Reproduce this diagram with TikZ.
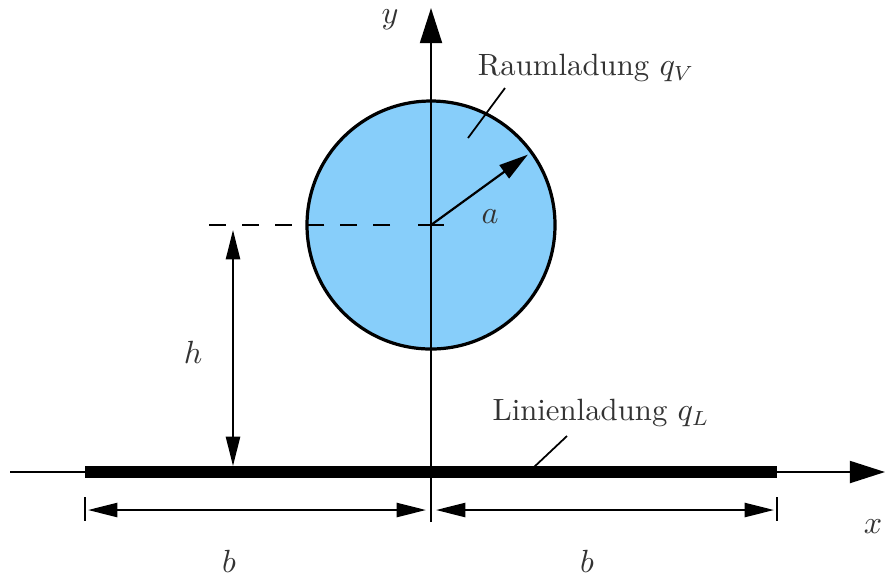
\documentclass[tikz,border=0pt]{standalone}
\usepackage{amsmath}
\usepackage{xcolor}
\usepackage{tikz}
\usetikzlibrary{arrows.meta}
\definecolor{chargefill}{RGB}{135, 206, 250}
\definecolor{labelgray}{gray}{0.2}

\begin{document}
\begin{tikzpicture}[x=0.012cm, y=-0.012cm,
	axis/.style={line width=0.75pt, -{Triangle[length=12pt, width=7.5pt]}},
	dim/.style={line width=0.75pt, {Triangle[length=10pt, width=4.8pt]}-{Triangle[length=10pt, width=4.8pt]}},
	lbl/.style={text=labelgray, font=\fontsize{10.5}{12}\selectfont, inner sep=1pt}]
			\useasboundingbox (0,0) rectangle (885,574);
			\def\rad{124}

			% Raumladung: circle around the centre on the y axis
			\coordinate (C) at (431,225);
			\node[circle, draw, line width=1.1pt, fill=chargefill, minimum size=2*\rad*0.012cm, inner sep=0pt] (ball) at (C) {};
			\draw[dash pattern=on 5.8pt off 5.4pt, line width=0.6pt] (390,225) -- (208,225);
			\draw[line width=0.6pt] (418,225) -- (444,225);
			\draw[line width=0.75pt, -{Triangle[length=10pt, width=5.5pt]}, shorten >=2pt] (C) -- (ball.36.7);

			% axes
			\coordinate (xs) at (10,472);
			\coordinate (xe) at (885,472);
			\coordinate (ys) at (431,522);
			\coordinate (ye) at (431,8);
			\draw[axis] (xs) -- (xe);
			\draw[axis] (ys) -- (ye);

			% Linienladung
			\coordinate (L1) at (85,472);
			\coordinate (L2) at (777,472);
			\draw[line width=4.1pt] (L1) -- (L2);

			% height h
			\coordinate (hT) at (233,230);
			\coordinate (hB) at (233,466);
			\draw[dim] (hT) -- (hB);

			% widths b
			\coordinate (bL) at (88,510);
			\coordinate (bM1) at (426,510);
			\coordinate (bM2) at (436,510);
			\coordinate (bR) at (774,510);
			\draw[line width=0.6pt] (85,497) -- (85,521);
			\draw[line width=0.6pt] (777,497) -- (777,521);
			\draw[dim] (bL) -- (bM1);
			\draw[dim] (bM2) -- (bR);

			% leaders
			\coordinate (rv1) at (468,138);
			\coordinate (rv2) at (505,88);
			\draw[line width=0.6pt] (rv1) -- (rv2);
			\coordinate (ll1) at (533,468);
			\coordinate (ll2) at (567,436);
			\draw[line width=0.6pt] (ll1) -- (ll2);

			\node[lbl] (rl) at (586,68) {Raumladung $q_V$};
			\node[lbl] (lin) at (601,413) {Linienladung $q_L$};
			\node[lbl] (ylab) at (390,20) {$y$};
			\node[lbl] (xlab) at (873,527) {$x$};
			\node[lbl] (alab) at (490,217) {$a$};
			\node[lbl] (hlab) at (193,352) {$h$};
			\node[lbl] (b1) at (229,561) {$b$};
			\node[lbl] (b2) at (587,561) {$b$};

		\end{tikzpicture}
\end{document}
